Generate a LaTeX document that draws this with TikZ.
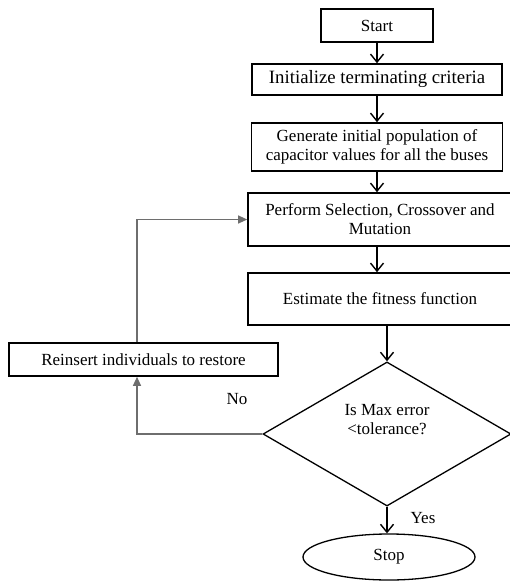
\documentclass[tikz,border=0pt]{standalone}
\usepackage{fontspec}
\setmainfont{Liberation Serif}
\usepackage{xcolor}
\usepackage{tikz}
\usetikzlibrary{shapes.geometric,arrows.meta}
\definecolor{ink}{HTML}{000000}
\definecolor{loopc}{HTML}{6E6E6E}
\tikzset{
  box/.style={draw=ink, line width=1.6pt, rectangle, align=center, inner sep=2pt, font=\fontsize{17}{19}\selectfont},
  decision/.style={draw=ink, line width=1.3pt, diamond, align=center, inner sep=0pt, font=\fontsize{17}{19}\selectfont},
  term/.style={draw=ink, line width=1.3pt, ellipse, inner sep=0pt, font=\fontsize{17}{19}\selectfont},
  flow/.style={draw=ink, line width=1.4pt, -{Straight Barb[length=8pt,width=13pt]}},
  back/.style={draw=loopc, line width=1.1pt, -{Triangle[length=9pt,width=8pt]}},
  lab/.style={text=ink, font=\fontsize{17}{19}\selectfont},
}
\begin{document}
\begin{tikzpicture}[x=1pt, y=-1pt]
  \useasboundingbox (0,0) rectangle (509,581);
  % main column
  \node[box, minimum width=112pt, minimum height=33pt] (start) at (377,25.5) {Start};
  \node[box, minimum width=250pt, minimum height=31pt, font=\fontsize{18.8}{20}\selectfont] (init) at (377,79.5) {Initialize terminating criteria};
  \node[box, minimum width=251pt, minimum height=48pt] (gen) at (377,147) {Generate initial population of\\capacitor values for all the buses};
  \node[box, minimum width=264pt, minimum height=53pt] (perf) at (380,219.5) {Perform Selection, Crossover and\\Mutation};
  \node[box, minimum width=264pt, minimum height=52pt] (est) at (380,299) {Estimate the fitness function};
  \node[decision, minimum width=248pt, minimum height=140pt] (dec) at (387,434) {Is Max error\\<tolerance?\\[10pt]};
  \node[term, minimum width=172pt, minimum height=46pt] (stop) at (389,557) {Stop};
  % loop back
  \node[box, minimum width=269pt, minimum height=33pt] (reins) at (143.5,359.5) {Reinsert individuals to restore};
  \node[lab] (lblno) at (237,399) {No};
  \node[lab] (lblyes) at (423,518) {Yes};

  \draw[flow] (start) -- (init);
  \draw[flow] (init) -- (gen);
  \draw[flow] (gen) -- (perf.north -| gen.south);
  \draw[flow] (perf.south -| gen.south) -- (est.north -| gen.south);
  \draw[flow] (est.south -| dec.north) -- (dec.north);
  \draw[flow] (dec.south) -- (dec.south |- stop.north);
  \draw[back] (dec.west) -| ([xshift=-6.5pt]reins.south);
  \draw[back] ([xshift=-6.5pt]reins.north) |- (perf.west);
\end{tikzpicture}
\end{document}
